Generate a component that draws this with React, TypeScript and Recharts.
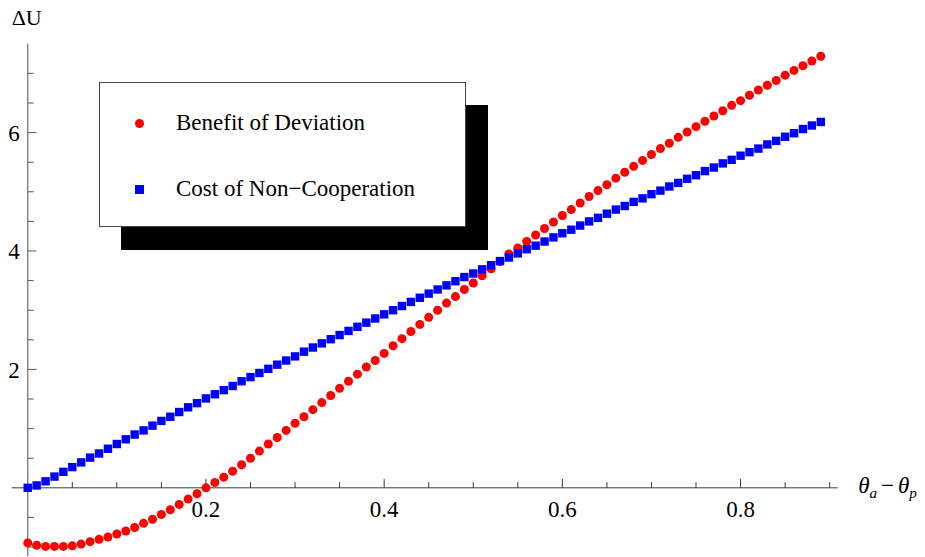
import React from 'react';
import { ScatterChart, Scatter, XAxis, YAxis, ReferenceLine, ReferenceDot, Legend } from 'recharts';

// ---------- data ----------
const xValues = [
  0, 0.01, 0.02, 0.03, 0.04, 0.05, 0.06, 0.07, 0.08, 0.09,
  0.1, 0.11, 0.12, 0.13, 0.14, 0.15, 0.16, 0.17, 0.18, 0.19,
  0.2, 0.21, 0.22, 0.23, 0.24, 0.25, 0.26, 0.27, 0.28, 0.29,
  0.3, 0.31, 0.32, 0.33, 0.34, 0.35, 0.36, 0.37, 0.38, 0.39,
  0.4, 0.41, 0.42, 0.43, 0.44, 0.45, 0.46, 0.47, 0.48, 0.49,
  0.5, 0.51, 0.52, 0.53, 0.54, 0.55, 0.56, 0.57, 0.58, 0.59,
  0.6, 0.61, 0.62, 0.63, 0.64, 0.65, 0.66, 0.67, 0.68, 0.69,
  0.7, 0.71, 0.72, 0.73, 0.74, 0.75, 0.76, 0.77, 0.78, 0.79,
  0.8, 0.81, 0.82, 0.83, 0.84, 0.85, 0.86, 0.87, 0.88, 0.89,
];

const benefitValues = [
  -0.93, -0.97, -0.99, -0.99, -0.99, -0.98, -0.95, -0.91, -0.87, -0.83,
  -0.78, -0.73, -0.67, -0.6, -0.53, -0.45, -0.37, -0.28, -0.19, -0.1,
  0.0, 0.09, 0.18, 0.28, 0.39, 0.5, 0.62, 0.74, 0.85, 0.97,
  1.09, 1.2, 1.32, 1.44, 1.56, 1.68, 1.8, 1.92, 2.04, 2.15,
  2.27, 2.4, 2.52, 2.64, 2.76, 2.88, 3.0, 3.12, 3.23, 3.35,
  3.46, 3.58, 3.7, 3.82, 3.95, 4.05, 4.16, 4.27, 4.38, 4.49,
  4.6, 4.7, 4.81, 4.92, 5.02, 5.12, 5.23, 5.33, 5.43, 5.53,
  5.63, 5.73, 5.82, 5.92, 6.01, 6.1, 6.19, 6.28, 6.37, 6.46,
  6.54, 6.63, 6.72, 6.8, 6.88, 6.97, 7.05, 7.13, 7.21, 7.29,
];

const costValues = [
  0.0, 0.04, 0.11, 0.19, 0.27, 0.35, 0.43, 0.51, 0.58, 0.66,
  0.74, 0.82, 0.9, 0.97, 1.05, 1.13, 1.2, 1.28, 1.36, 1.43,
  1.51, 1.58, 1.65, 1.72, 1.8, 1.87, 1.94, 2.01, 2.08, 2.15,
  2.22, 2.3, 2.37, 2.44, 2.51, 2.58, 2.65, 2.72, 2.79, 2.86,
  2.93, 3.0, 3.07, 3.14, 3.21, 3.28, 3.35, 3.42, 3.49, 3.56,
  3.62, 3.69, 3.76, 3.83, 3.89, 3.96, 4.03, 4.09, 4.16, 4.23,
  4.3, 4.36, 4.43, 4.5, 4.56, 4.63, 4.7, 4.76, 4.83, 4.89,
  4.96, 5.02, 5.09, 5.15, 5.22, 5.28, 5.35, 5.41, 5.48, 5.54,
  5.61, 5.67, 5.73, 5.8, 5.86, 5.93, 5.99, 6.06, 6.12, 6.18,
];

const seriesNames = ['Benefit of Deviation', 'Cost of Non\u2212Cooperation'];

const xMajorTicks = [0.2, 0.4, 0.6, 0.8];
const xTickLabels = ['0.2', '0.4', '0.6', '0.8'];
const xMinorTicks = [0.05, 0.1, 0.15, 0.25, 0.3, 0.35, 0.45, 0.5, 0.55, 0.65, 0.7, 0.75, 0.85, 0.9];
const yMajorTicks = [2, 4, 6];
const yTickLabels = ['2', '4', '6'];
const yMinorTicks = [-1, -0.5, 0.5, 1, 1.5, 2.5, 3, 3.5, 4.5, 5, 5.5, 6.5, 7];

const X_DOMAIN: [number, number] = [-0.018, 0.909];
const Y_DOMAIN: [number, number] = [-1.15, 7.5];

// ---------- styles ----------
const W = 925;
const H = 557;
const MARGIN = { top: 43.8, right: 87.3, bottom: 1.1, left: 11.7 };
const FONT = '"Liberation Serif", "Times New Roman", serif';
const X_AXIS_COLOR = '#3a3a3a';
const Y_AXIS_COLOR = '#777777';
const Y_TICK_COLOR = '#555555';
const RED = '#ff0000';
const BLUE = '#0000ff';

const benefitData = xValues.map((x, i) => ({ x, y: benefitValues[i] }));
const costData = xValues.map((x, i) => ({ x, y: costValues[i] }));

const RedDot = (p: any) => <circle cx={p.cx} cy={p.cy} r={4.5} fill={RED} />;
const BlueSquare = (p: any) => (
  <rect x={p.cx - 4.2} y={p.cy - 4.2} width={8.4} height={8.4} fill={BLUE} />
);

const xTickShape = (len: number) => (p: any) => (
  <line x1={p.cx} y1={p.cy} x2={p.cx} y2={p.cy - len} stroke={X_AXIS_COLOR} strokeWidth={1} />
);
const yTickShape = (len: number) => (p: any) => (
  <line x1={p.cx} y1={p.cy} x2={p.cx + len} y2={p.cy} stroke={Y_TICK_COLOR} strokeWidth={1} />
);

const xLabelShape = (text: string) => (p: any) => (
  <text x={p.cx} y={p.cy + 29.5} textAnchor="middle" fontFamily={FONT} fontSize={23} fill="#000">
    {text}
  </text>
);
const yLabelShape = (text: string) => (p: any) => (
  <text x={p.cx - 8} y={p.cy + 8.3} textAnchor="end" fontFamily={FONT} fontSize={23} fill="#000">
    {text}
  </text>
);

const yTitleShape = (p: any) => (
  <text x={p.cx - 1} y={p.cy - 19} textAnchor="middle" fontFamily={FONT} fontSize={22} fill="#000">
    ΔU
  </text>
);

const xTitleShape = (p: any) => (
  <text x={p.cx + 20.5} y={p.cy + 5} fontFamily={FONT} fontSize={23} fill="#000">
    <tspan fontStyle="italic">θ</tspan>
    <tspan fontStyle="italic" fontSize={15} dy={5}>a</tspan>
    <tspan dx={4} dy={-5}>−</tspan>
    <tspan dx={4} fontStyle="italic">θ</tspan>
    <tspan fontStyle="italic" fontSize={15} dy={5}>p</tspan>
  </text>
);

const LegendBox = (props: any) => {
  const payload = props.payload || [];
  const rowTops = [40, 106];
  return (
    <div
      style={{
        position: 'relative',
        width: 367,
        height: 145,
        background: '#fff',
        border: '1px solid #444',
        boxShadow: '22px 23px 0 0 #000',
        boxSizing: 'border-box',
        fontFamily: FONT,
        fontSize: 23,
        color: '#000',
      }}
    >
      {payload.map((entry: any, i: number) => (
        <div key={i} style={{ position: 'absolute', left: 0, top: rowTops[i] - 15, height: 30, width: '100%' }}>
          {entry.type === 'square' ? (
            <div style={{ position: 'absolute', left: 39 - 4.4, top: 15 - 4.4, width: 8.8, height: 8.8, background: entry.color }} />
          ) : (
            <div style={{ position: 'absolute', left: 39 - 4.7, top: 15 - 4.7, width: 9.4, height: 9.4, borderRadius: '50%', background: entry.color }} />
          )}
          <div style={{ position: 'absolute', left: 75.7, top: 0, lineHeight: '30px', whiteSpace: 'nowrap' }}>
            {entry.value}
          </div>
        </div>
      ))}
    </div>
  );
};

export default function App() {
  return (
    <div style={{ position: 'absolute', left: 0, top: 0, width: W, height: H, background: '#fff' }}>
      <ScatterChart width={W} height={H} margin={MARGIN}>
        <XAxis type="number" dataKey="x" domain={X_DOMAIN} hide allowDataOverflow />
        <YAxis type="number" dataKey="y" domain={Y_DOMAIN} hide allowDataOverflow />
        <ReferenceLine y={0} stroke={X_AXIS_COLOR} strokeWidth={1} />
        <ReferenceLine x={0} stroke={Y_AXIS_COLOR} strokeWidth={1.3} />
        {xMinorTicks.map((t) => (
          <ReferenceDot key={'xm' + t} x={t} y={0} r={0} shape={xTickShape(5.7)} />
        ))}
        {xMajorTicks.map((t) => (
          <ReferenceDot key={'xM' + t} x={t} y={0} r={0} shape={xTickShape(9)} />
        ))}
        {yMinorTicks.map((t) => (
          <ReferenceDot key={'ym' + t} x={0} y={t} r={0} shape={yTickShape(6)} />
        ))}
        {yMajorTicks.map((t) => (
          <ReferenceDot key={'yM' + t} x={0} y={t} r={0} shape={yTickShape(8.7)} />
        ))}
        {xMajorTicks.map((t, i) => (
          <ReferenceDot key={'xl' + t} x={t} y={0} r={0} shape={xLabelShape(xTickLabels[i])} />
        ))}
        {yMajorTicks.map((t, i) => (
          <ReferenceDot key={'yl' + t} x={0} y={t} r={0} shape={yLabelShape(yTickLabels[i])} />
        ))}
        <ReferenceDot x={0} y={Y_DOMAIN[1]} r={0} shape={yTitleShape} />
        <ReferenceDot x={X_DOMAIN[1]} y={0} r={0} shape={xTitleShape} />
        <Scatter
          name={seriesNames[0]}
          data={benefitData}
          fill={RED}
          legendType="circle"
          shape={RedDot}
          isAnimationActive={false}
        />
        <Scatter
          name={seriesNames[1]}
          data={costData}
          fill={BLUE}
          legendType="square"
          shape={BlueSquare}
          isAnimationActive={false}
        />
        <Legend
          layout="horizontal"
          verticalAlign="middle"
          align="center"
          content={LegendBox}
          wrapperStyle={{ left: 99.3, top: 82.3, width: 367, height: 145 }}
        />
      </ScatterChart>
    </div>
  );
}
